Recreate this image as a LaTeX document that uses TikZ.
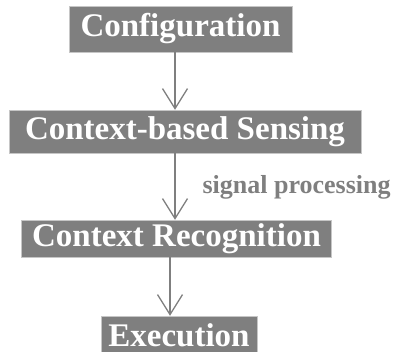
\documentclass[tikz,border=0pt]{standalone}
\usepackage{fontspec}
\setmainfont{Liberation Serif}
\usetikzlibrary{arrows.meta}

\definecolor{boxgray}{HTML}{7F7F7F}
\tikzset{
    stage/.style = {fill = boxgray, draw = gray!45, thin, text = white, font = \bfseries\fontsize{33}{33}\selectfont, inner sep = 0pt, minimum height = 40pt},
    flow/.style = {draw = boxgray, line width = 1.3pt, -{Straight Barb[length = 20pt, width = 25pt, line width = 1.3pt]}}
}

\begin{document}
\begin{tikzpicture}[x = 1pt, y = 1pt]
    \useasboundingbox (0, 0) rectangle (395, -352); % Рамка рисунка

    \node [stage, minimum width = 223pt, minimum height = 46pt] (cfg) at (180.5, -29) {Configuration};
    \node [stage, minimum width = 352pt, minimum height = 43pt] (sens) at (185, -131.5) {Context-based Sensing};
    \node [stage, minimum width = 310pt, minimum height = 37pt] (recog) at (176.5, -238.5) {Context Recognition};
    \node [stage, minimum width = 156pt, minimum height = 38pt] (exec) at (179, -335) {Execution};

    % Стрелки между блоками
    \draw [flow] ([xshift = -5.5pt] cfg.south) -- ([xshift = -10pt] sens.north);
    \draw [flow] ([xshift = -10pt] sens.south) -- ([xshift = -1.5pt] recog.north);
    \draw [flow] ([xshift = -6.5pt] recog.south) -- ([xshift = -9pt] exec.north);

    \node [text = boxgray, font = \bfseries\fontsize{26}{26}\selectfont, anchor = west] (sig) at (199, -187) {signal processing}; % Подпись
\end{tikzpicture}
\end{document}
